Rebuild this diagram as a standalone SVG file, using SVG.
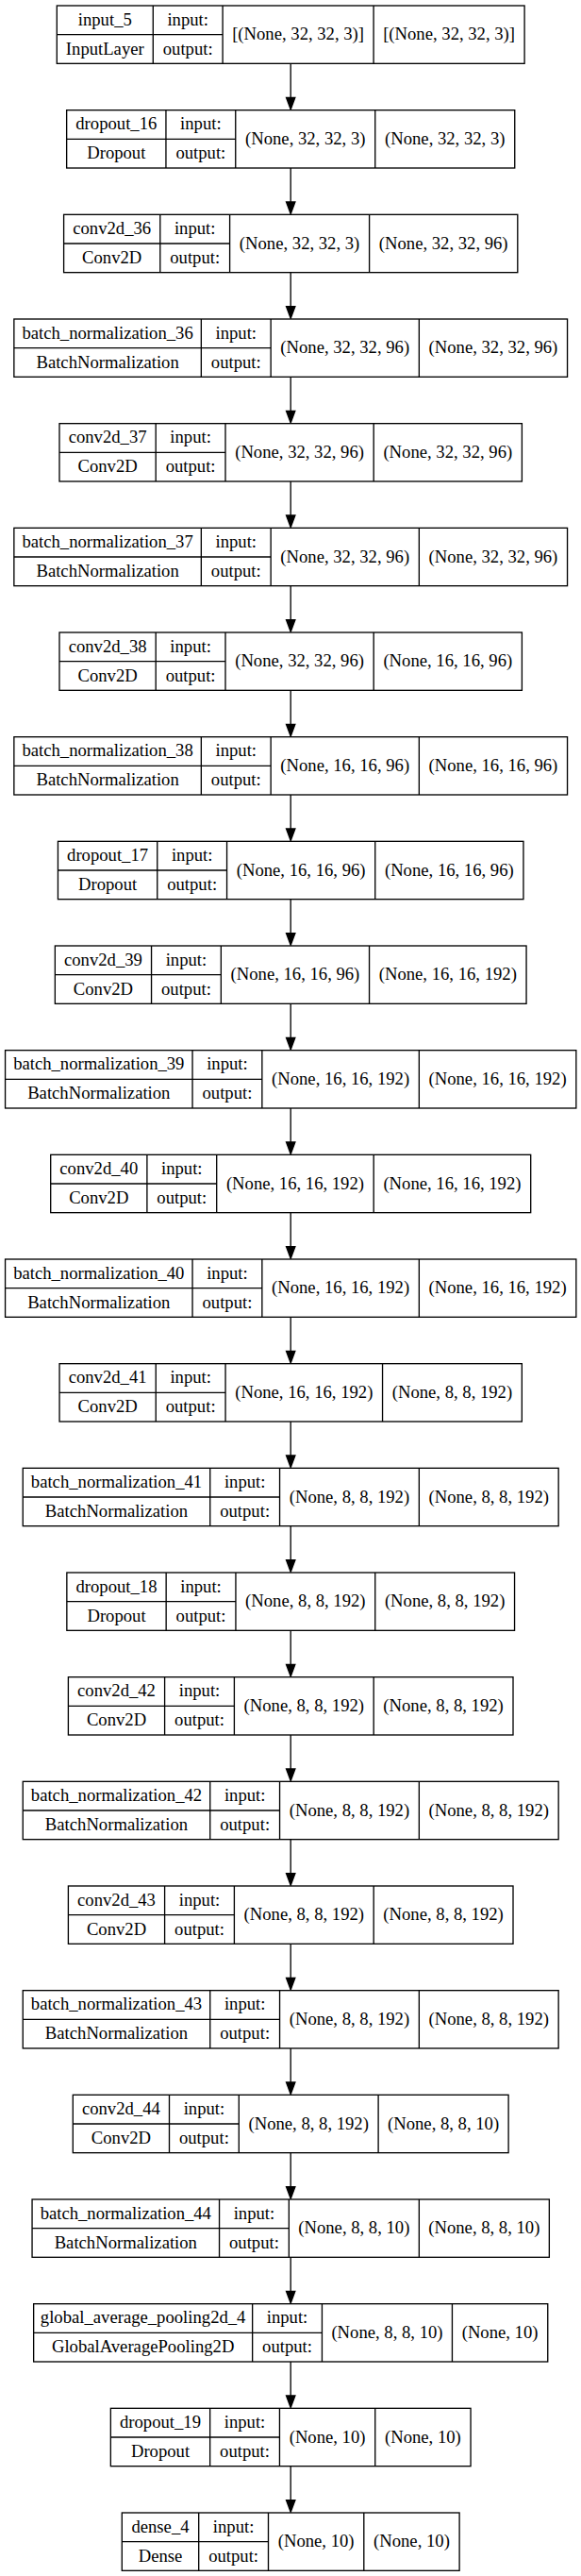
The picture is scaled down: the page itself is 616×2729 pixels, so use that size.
<svg xmlns="http://www.w3.org/2000/svg" width="616" height="2729" viewBox="0 0 616 2729">
<style>
.node rect{fill:#fff;stroke:#000;stroke-width:1.33}
.node path{fill:none;stroke:#000;stroke-width:1.33}
.node text{font-family:"Liberation Serif","Times New Roman",serif;font-size:18.67px;text-anchor:middle;fill:#000}
.edges path{fill:none;stroke:#000;stroke-width:1.33}
</style>
<defs>
<marker id="ah" viewBox="-1 -6 15 12" refX="0" refY="0" markerWidth="15" markerHeight="12" orient="auto" markerUnits="userSpaceOnUse">
<path d="M0,-4.67L12.6,0L0,4.67Z" fill="#000" stroke="#000" stroke-width="1.33"/>
</marker>
</defs>
<rect width="616" height="2729" fill="#fff"/>
<g class="edges">
<path d="M308.2 67.33V103.33" marker-end="url(#ah)"/>
<path d="M308.2 178V214" marker-end="url(#ah)"/>
<path d="M308.2 288.67V324.67" marker-end="url(#ah)"/>
<path d="M308.2 399.33V435.33" marker-end="url(#ah)"/>
<path d="M308.2 510V546" marker-end="url(#ah)"/>
<path d="M308.2 620.67V656.67" marker-end="url(#ah)"/>
<path d="M308.2 731.33V767.33" marker-end="url(#ah)"/>
<path d="M308.2 842V878" marker-end="url(#ah)"/>
<path d="M308.2 952.67V988.67" marker-end="url(#ah)"/>
<path d="M308.2 1063.33V1099.33" marker-end="url(#ah)"/>
<path d="M308.2 1174V1210" marker-end="url(#ah)"/>
<path d="M308.2 1284.67V1320.67" marker-end="url(#ah)"/>
<path d="M308.2 1395.33V1431.33" marker-end="url(#ah)"/>
<path d="M308.2 1506V1542" marker-end="url(#ah)"/>
<path d="M308.2 1616.67V1652.67" marker-end="url(#ah)"/>
<path d="M308.2 1727.33V1763.33" marker-end="url(#ah)"/>
<path d="M308.2 1838V1874" marker-end="url(#ah)"/>
<path d="M308.2 1948.67V1984.67" marker-end="url(#ah)"/>
<path d="M308.2 2059.33V2095.33" marker-end="url(#ah)"/>
<path d="M308.2 2170V2206" marker-end="url(#ah)"/>
<path d="M308.2 2280.67V2316.67" marker-end="url(#ah)"/>
<path d="M308.2 2391.33V2427.33" marker-end="url(#ah)"/>
<path d="M308.2 2502V2538" marker-end="url(#ah)"/>
<path d="M308.2 2612.67V2648.67" marker-end="url(#ah)"/>
</g>
<g id="input_5" class="node" transform="translate(0,6)">
<rect x="60.3" y="0" width="495.8" height="61.33"/>
<path d="M60.3 30.67H236.1M162.3 0V61.33M236.1 0V61.33M396.1 0V61.33"/>
<text x="111.3" y="20.8">input_5</text><text x="111.3" y="51.5">InputLayer</text>
<text x="199.2" y="20.8">input:</text><text x="199.2" y="51.5">output:</text>
<text x="316.1" y="36.2">[(None, 32, 32, 3)]</text><text x="476.1" y="36.2">[(None, 32, 32, 3)]</text>
</g>
<g id="dropout_16" class="node" transform="translate(0,116.67)">
<rect x="70.65" y="0" width="475.1" height="61.33"/>
<path d="M70.65 30.67H249.75M175.95 0V61.33M249.75 0V61.33M397.75 0V61.33"/>
<text x="123.3" y="20.8">dropout_16</text><text x="123.3" y="51.5">Dropout</text>
<text x="212.85" y="20.8">input:</text><text x="212.85" y="51.5">output:</text>
<text x="323.75" y="36.2">(None, 32, 32, 3)</text><text x="471.75" y="36.2">(None, 32, 32, 3)</text>
</g>
<g id="conv2d_36" class="node" transform="translate(0,227.33)">
<rect x="67.6" y="0" width="481.2" height="61.33"/>
<path d="M67.6 30.67H243.6M169.8 0V61.33M243.6 0V61.33M391.6 0V61.33"/>
<text x="118.7" y="20.8">conv2d_36</text><text x="118.7" y="51.5">Conv2D</text>
<text x="206.7" y="20.8">input:</text><text x="206.7" y="51.5">output:</text>
<text x="317.6" y="36.2">(None, 32, 32, 3)</text><text x="470.2" y="36.2">(None, 32, 32, 96)</text>
</g>
<g id="batch_normalization_36" class="node" transform="translate(0,338)">
<rect x="14.85" y="0" width="586.7" height="61.33"/>
<path d="M14.85 30.67H287.15M213.35 0V61.33M287.15 0V61.33M444.35 0V61.33"/>
<text x="114.1" y="20.8">batch_normalization_36</text><text x="114.1" y="51.5">BatchNormalization</text>
<text x="250.25" y="20.8">input:</text><text x="250.25" y="51.5">output:</text>
<text x="365.75" y="36.2">(None, 32, 32, 96)</text><text x="522.95" y="36.2">(None, 32, 32, 96)</text>
</g>
<g id="conv2d_37" class="node" transform="translate(0,448.67)">
<rect x="63" y="0" width="490.4" height="61.33"/>
<path d="M63 30.67H239M165.2 0V61.33M239 0V61.33M396.2 0V61.33"/>
<text x="114.1" y="20.8">conv2d_37</text><text x="114.1" y="51.5">Conv2D</text>
<text x="202.1" y="20.8">input:</text><text x="202.1" y="51.5">output:</text>
<text x="317.6" y="36.2">(None, 32, 32, 96)</text><text x="474.8" y="36.2">(None, 32, 32, 96)</text>
</g>
<g id="batch_normalization_37" class="node" transform="translate(0,559.33)">
<rect x="14.85" y="0" width="586.7" height="61.33"/>
<path d="M14.85 30.67H287.15M213.35 0V61.33M287.15 0V61.33M444.35 0V61.33"/>
<text x="114.1" y="20.8">batch_normalization_37</text><text x="114.1" y="51.5">BatchNormalization</text>
<text x="250.25" y="20.8">input:</text><text x="250.25" y="51.5">output:</text>
<text x="365.75" y="36.2">(None, 32, 32, 96)</text><text x="522.95" y="36.2">(None, 32, 32, 96)</text>
</g>
<g id="conv2d_38" class="node" transform="translate(0,670)">
<rect x="63" y="0" width="490.4" height="61.33"/>
<path d="M63 30.67H239M165.2 0V61.33M239 0V61.33M396.2 0V61.33"/>
<text x="114.1" y="20.8">conv2d_38</text><text x="114.1" y="51.5">Conv2D</text>
<text x="202.1" y="20.8">input:</text><text x="202.1" y="51.5">output:</text>
<text x="317.6" y="36.2">(None, 32, 32, 96)</text><text x="474.8" y="36.2">(None, 16, 16, 96)</text>
</g>
<g id="batch_normalization_38" class="node" transform="translate(0,780.67)">
<rect x="14.85" y="0" width="586.7" height="61.33"/>
<path d="M14.85 30.67H287.15M213.35 0V61.33M287.15 0V61.33M444.35 0V61.33"/>
<text x="114.1" y="20.8">batch_normalization_38</text><text x="114.1" y="51.5">BatchNormalization</text>
<text x="250.25" y="20.8">input:</text><text x="250.25" y="51.5">output:</text>
<text x="365.75" y="36.2">(None, 16, 16, 96)</text><text x="522.95" y="36.2">(None, 16, 16, 96)</text>
</g>
<g id="dropout_17" class="node" transform="translate(0,891.33)">
<rect x="61.45" y="0" width="493.5" height="61.33"/>
<path d="M61.45 30.67H240.55M166.75 0V61.33M240.55 0V61.33M397.75 0V61.33"/>
<text x="114.1" y="20.8">dropout_17</text><text x="114.1" y="51.5">Dropout</text>
<text x="203.65" y="20.8">input:</text><text x="203.65" y="51.5">output:</text>
<text x="319.15" y="36.2">(None, 16, 16, 96)</text><text x="476.35" y="36.2">(None, 16, 16, 96)</text>
</g>
<g id="conv2d_39" class="node" transform="translate(0,1002)">
<rect x="58.35" y="0" width="499.7" height="61.33"/>
<path d="M58.35 30.67H234.35M160.55 0V61.33M234.35 0V61.33M391.55 0V61.33"/>
<text x="109.45" y="20.8">conv2d_39</text><text x="109.45" y="51.5">Conv2D</text>
<text x="197.45" y="20.8">input:</text><text x="197.45" y="51.5">output:</text>
<text x="312.95" y="36.2">(None, 16, 16, 96)</text><text x="474.8" y="36.2">(None, 16, 16, 192)</text>
</g>
<g id="batch_normalization_39" class="node" transform="translate(0,1112.67)">
<rect x="5.55" y="0" width="605.3" height="61.33"/>
<path d="M5.55 30.67H277.85M204.05 0V61.33M277.85 0V61.33M444.35 0V61.33"/>
<text x="104.8" y="20.8">batch_normalization_39</text><text x="104.8" y="51.5">BatchNormalization</text>
<text x="240.95" y="20.8">input:</text><text x="240.95" y="51.5">output:</text>
<text x="361.1" y="36.2">(None, 16, 16, 192)</text><text x="527.6" y="36.2">(None, 16, 16, 192)</text>
</g>
<g id="conv2d_40" class="node" transform="translate(0,1223.33)">
<rect x="53.7" y="0" width="509" height="61.33"/>
<path d="M53.7 30.67H229.7M155.9 0V61.33M229.7 0V61.33M396.2 0V61.33"/>
<text x="104.8" y="20.8">conv2d_40</text><text x="104.8" y="51.5">Conv2D</text>
<text x="192.8" y="20.8">input:</text><text x="192.8" y="51.5">output:</text>
<text x="312.95" y="36.2">(None, 16, 16, 192)</text><text x="479.45" y="36.2">(None, 16, 16, 192)</text>
</g>
<g id="batch_normalization_40" class="node" transform="translate(0,1334)">
<rect x="5.55" y="0" width="605.3" height="61.33"/>
<path d="M5.55 30.67H277.85M204.05 0V61.33M277.85 0V61.33M444.35 0V61.33"/>
<text x="104.8" y="20.8">batch_normalization_40</text><text x="104.8" y="51.5">BatchNormalization</text>
<text x="240.95" y="20.8">input:</text><text x="240.95" y="51.5">output:</text>
<text x="361.1" y="36.2">(None, 16, 16, 192)</text><text x="527.6" y="36.2">(None, 16, 16, 192)</text>
</g>
<g id="conv2d_41" class="node" transform="translate(0,1444.67)">
<rect x="63.05" y="0" width="490.3" height="61.33"/>
<path d="M63.05 30.67H239.05M165.25 0V61.33M239.05 0V61.33M405.55 0V61.33"/>
<text x="114.15" y="20.8">conv2d_41</text><text x="114.15" y="51.5">Conv2D</text>
<text x="202.15" y="20.8">input:</text><text x="202.15" y="51.5">output:</text>
<text x="322.3" y="36.2">(None, 16, 16, 192)</text><text x="479.45" y="36.2">(None, 8, 8, 192)</text>
</g>
<g id="batch_normalization_41" class="node" transform="translate(0,1555.33)">
<rect x="24.25" y="0" width="567.9" height="61.33"/>
<path d="M24.25 30.67H296.55M222.75 0V61.33M296.55 0V61.33M444.35 0V61.33"/>
<text x="123.5" y="20.8">batch_normalization_41</text><text x="123.5" y="51.5">BatchNormalization</text>
<text x="259.65" y="20.8">input:</text><text x="259.65" y="51.5">output:</text>
<text x="370.45" y="36.2">(None, 8, 8, 192)</text><text x="518.25" y="36.2">(None, 8, 8, 192)</text>
</g>
<g id="dropout_18" class="node" transform="translate(0,1666)">
<rect x="70.85" y="0" width="474.7" height="61.33"/>
<path d="M70.85 30.67H249.95M176.15 0V61.33M249.95 0V61.33M397.75 0V61.33"/>
<text x="123.5" y="20.8">dropout_18</text><text x="123.5" y="51.5">Dropout</text>
<text x="213.05" y="20.8">input:</text><text x="213.05" y="51.5">output:</text>
<text x="323.85" y="36.2">(None, 8, 8, 192)</text><text x="471.65" y="36.2">(None, 8, 8, 192)</text>
</g>
<g id="conv2d_42" class="node" transform="translate(0,1776.67)">
<rect x="72.4" y="0" width="471.6" height="61.33"/>
<path d="M72.4 30.67H248.4M174.6 0V61.33M248.4 0V61.33M396.2 0V61.33"/>
<text x="123.5" y="20.8">conv2d_42</text><text x="123.5" y="51.5">Conv2D</text>
<text x="211.5" y="20.8">input:</text><text x="211.5" y="51.5">output:</text>
<text x="322.3" y="36.2">(None, 8, 8, 192)</text><text x="470.1" y="36.2">(None, 8, 8, 192)</text>
</g>
<g id="batch_normalization_42" class="node" transform="translate(0,1887.33)">
<rect x="24.25" y="0" width="567.9" height="61.33"/>
<path d="M24.25 30.67H296.55M222.75 0V61.33M296.55 0V61.33M444.35 0V61.33"/>
<text x="123.5" y="20.8">batch_normalization_42</text><text x="123.5" y="51.5">BatchNormalization</text>
<text x="259.65" y="20.8">input:</text><text x="259.65" y="51.5">output:</text>
<text x="370.45" y="36.2">(None, 8, 8, 192)</text><text x="518.25" y="36.2">(None, 8, 8, 192)</text>
</g>
<g id="conv2d_43" class="node" transform="translate(0,1998)">
<rect x="72.4" y="0" width="471.6" height="61.33"/>
<path d="M72.4 30.67H248.4M174.6 0V61.33M248.4 0V61.33M396.2 0V61.33"/>
<text x="123.5" y="20.8">conv2d_43</text><text x="123.5" y="51.5">Conv2D</text>
<text x="211.5" y="20.8">input:</text><text x="211.5" y="51.5">output:</text>
<text x="322.3" y="36.2">(None, 8, 8, 192)</text><text x="470.1" y="36.2">(None, 8, 8, 192)</text>
</g>
<g id="batch_normalization_43" class="node" transform="translate(0,2108.67)">
<rect x="24.25" y="0" width="567.9" height="61.33"/>
<path d="M24.25 30.67H296.55M222.75 0V61.33M296.55 0V61.33M444.35 0V61.33"/>
<text x="123.5" y="20.8">batch_normalization_43</text><text x="123.5" y="51.5">BatchNormalization</text>
<text x="259.65" y="20.8">input:</text><text x="259.65" y="51.5">output:</text>
<text x="370.45" y="36.2">(None, 8, 8, 192)</text><text x="518.25" y="36.2">(None, 8, 8, 192)</text>
</g>
<g id="conv2d_44" class="node" transform="translate(0,2219.33)">
<rect x="77.3" y="0" width="461.8" height="61.33"/>
<path d="M77.3 30.67H253.3M179.5 0V61.33M253.3 0V61.33M401.1 0V61.33"/>
<text x="128.4" y="20.8">conv2d_44</text><text x="128.4" y="51.5">Conv2D</text>
<text x="216.4" y="20.8">input:</text><text x="216.4" y="51.5">output:</text>
<text x="327.2" y="36.2">(None, 8, 8, 192)</text><text x="470.1" y="36.2">(None, 8, 8, 10)</text>
</g>
<g id="batch_normalization_44" class="node" transform="translate(0,2330)">
<rect x="34.05" y="0" width="548.3" height="61.33"/>
<path d="M34.05 30.67H306.35M232.55 0V61.33M306.35 0V61.33M444.35 0V61.33"/>
<text x="133.3" y="20.8">batch_normalization_44</text><text x="133.3" y="51.5">BatchNormalization</text>
<text x="269.45" y="20.8">input:</text><text x="269.45" y="51.5">output:</text>
<text x="375.35" y="36.2">(None, 8, 8, 10)</text><text x="513.35" y="36.2">(None, 8, 8, 10)</text>
</g>
<g id="global_average_pooling2d_4" class="node" transform="translate(0,2440.67)">
<rect x="35.65" y="0" width="545.1" height="61.33"/>
<path d="M35.65 30.67H341.45M267.65 0V61.33M341.45 0V61.33M479.45 0V61.33"/>
<text x="151.65" y="20.8">global_average_pooling2d_4</text><text x="151.65" y="51.5">GlobalAveragePooling2D</text>
<text x="304.55" y="20.8">input:</text><text x="304.55" y="51.5">output:</text>
<text x="410.45" y="36.2">(None, 8, 8, 10)</text><text x="530.1" y="36.2">(None, 10)</text>
</g>
<g id="dropout_19" class="node" transform="translate(0,2551.33)">
<rect x="117.35" y="0" width="381.7" height="61.33"/>
<path d="M117.35 30.67H296.45M222.65 0V61.33M296.45 0V61.33M397.75 0V61.33"/>
<text x="170" y="20.8">dropout_19</text><text x="170" y="51.5">Dropout</text>
<text x="259.55" y="20.8">input:</text><text x="259.55" y="51.5">output:</text>
<text x="347.1" y="36.2">(None, 10)</text><text x="448.4" y="36.2">(None, 10)</text>
</g>
<g id="dense_4" class="node" transform="translate(0,2662)">
<rect x="129.3" y="0" width="357.8" height="61.33"/>
<path d="M129.3 30.67H284.5M210.7 0V61.33M284.5 0V61.33M385.8 0V61.33"/>
<text x="170" y="20.8">dense_4</text><text x="170" y="51.5">Dense</text>
<text x="247.6" y="20.8">input:</text><text x="247.6" y="51.5">output:</text>
<text x="335.15" y="36.2">(None, 10)</text><text x="436.45" y="36.2">(None, 10)</text>
</g>
</svg>
